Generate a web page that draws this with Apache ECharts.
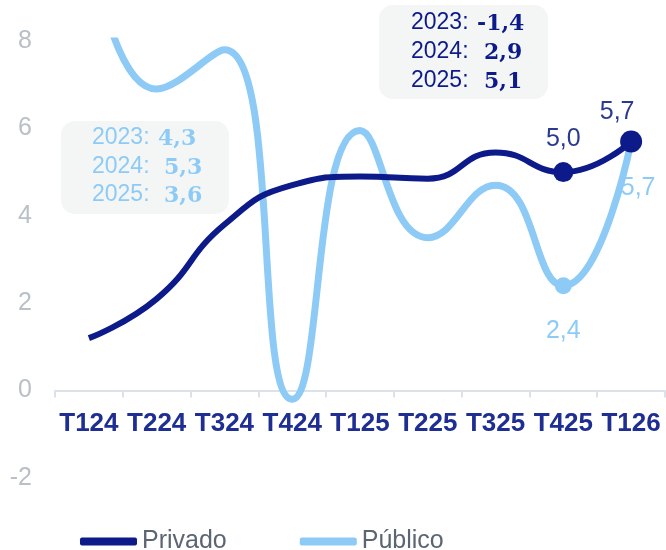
<!DOCTYPE html>
<html>
<head>
<meta charset="utf-8">
<script src="https://cdn.jsdelivr.net/npm/echarts@6/dist/echarts.min.js"></script>
<style>html,body{margin:0;padding:0;background:#fff;}#c{width:666px;height:550px;}</style>
</head>
<body>
<div id="c"></div>
<script>
const categories = ['T124','T224','T324','T424','T125','T225','T325','T425','T126'];
const privado = [1.2, 2.1, 3.8, 4.7, 4.9, 4.85, 5.45, 5.0, 5.7];
const publico = [10.5, 6.9, 7.8, -0.2, 5.95, 3.5, 4.7, 2.4, 5.7];
const yTicks = [-2, 0, 2, 4, 6, 8];
const annoYears = ['2023', '2024', '2025'];
const publicoAnual = [4.3, 5.3, 3.6];
const privadoAnual = [-1.4, 2.9, 5.1];
const seriesNames = ['Privado', 'Público'];

const NAVY = '#0c1a8a';
const LIGHT = '#8dcbf6';
const fmt = v => v.toFixed(1).replace('.', ',');

const GRID = {left: 55, right: 1, top: 41, bottom: 72};
const gridH = 550 - GRID.top - GRID.bottom;
const yMin = yTicks[0], yMax = yTicks[yTicks.length - 1];
const zeroOffset = -gridH * (0 - yMin) / (yMax - yMin);

const privadoLabels = {7: {position: 'top', distance: 10, color: '#2b3990'}, 8: {position: 'top', distance: 6, offset: [-14, 0], color: '#2b3990'}};
const publicoLabels = {7: {position: 'bottom', distance: 24, color: LIGHT}, 8: {position: 'bottom', distance: 26, offset: [7, 0], color: LIGHT}};
const privadoSym = {7: 20, 8: 22};
const publicoSym = {7: 17, 8: 16};

function buildData(vals, labels, sizes) {
  return vals.map((v, i) => {
    const item = {value: v};
    if (sizes[i]) { item.symbol = 'circle'; item.symbolSize = sizes[i]; }
    else { item.symbol = 'none'; }
    if (labels[i]) {
      item.label = Object.assign({show: true, formatter: p => fmt(p.value), fontSize: 25, fontFamily: 'Liberation Sans, Arial'}, labels[i]);
    }
    return item;
  });
}

const chart = echarts.init(document.getElementById('c'), null, {renderer: 'canvas'});

function boxGraphics(x, y, w, h, color, vals, valX, textX, lineY) {
  const els = [{type: 'rect', shape: {x: x, y: y, width: w, height: h, r: 14}, style: {fill: '#f4f6f6'}, z: 1}];
  vals.forEach((v, i) => {
    els.push({type: 'text', x: textX, y: lineY[i], z: 2, style: {text: annoYears[i] + ':', fill: color, font: '23px "Liberation Sans", Arial', verticalAlign: 'middle'}});
    els.push({type: 'text', x: valX[i], y: lineY[i] + 1, z: 2, style: {text: fmt(v), fill: color, font: 'bold 22px "DejaVu Serif", serif', verticalAlign: 'middle'}});
  });
  return els;
}

const option = {
  animation: false,
  backgroundColor: '#ffffff',
  grid: Object.assign({containLabel: false}, GRID),
  xAxis: {
    type: 'category',
    data: categories,
    boundaryGap: true,
    offset: zeroOffset,
    axisLine: {onZero: false, lineStyle: {color: '#dde2ea', width: 2}},
    axisTick: {show: true, interval: 0, length: 7, lineStyle: {color: '#dde2ea', width: 2}},
    axisLabel: {interval: 0, margin: 20, color: '#1f2e92', fontSize: 26, fontWeight: 'bold', fontFamily: 'Liberation Sans, Arial'},
    splitLine: {show: false}
  },
  yAxis: {
    type: 'value',
    min: yMin, max: yMax, interval: 2,
    axisLine: {show: false}, axisTick: {show: false}, splitLine: {show: false},
    axisLabel: {margin: 23, color: '#b9c0c8', fontSize: 25, fontFamily: 'Liberation Sans, Arial'}
  },
  legend: {
    left: 75, top: 524,
    itemWidth: 57, itemHeight: 8, itemGap: 73,
    icon: 'roundRect',
    textStyle: {color: '#5c6572', fontSize: 25, fontFamily: 'Liberation Sans, Arial'},
    data: seriesNames
  },
  series: [
    {
      name: seriesNames[1], type: 'line', smooth: 0.5, clip: true, z: 2,
      showSymbol: true,
      lineStyle: {color: LIGHT, width: 7},
      itemStyle: {color: LIGHT},
      data: buildData(publico, publicoLabels, publicoSym)
    },
    {
      name: seriesNames[0], type: 'line', smooth: 0.5, clip: true, z: 3,
      showSymbol: true,
      lineStyle: {color: NAVY, width: 6},
      itemStyle: {color: NAVY},
      data: buildData(privado, privadoLabels, privadoSym)
    }
  ],
  graphic: [].concat(
    boxGraphics(61, 121, 168, 93, LIGHT, publicoAnual, [158, 164, 164], 92, [138, 167, 195]),
    boxGraphics(379, 5, 169, 94, NAVY, privadoAnual, [477, 484, 484], 411, [23, 52, 81])
  )
};
chart.setOption(option);
</script>
</body>
</html>
